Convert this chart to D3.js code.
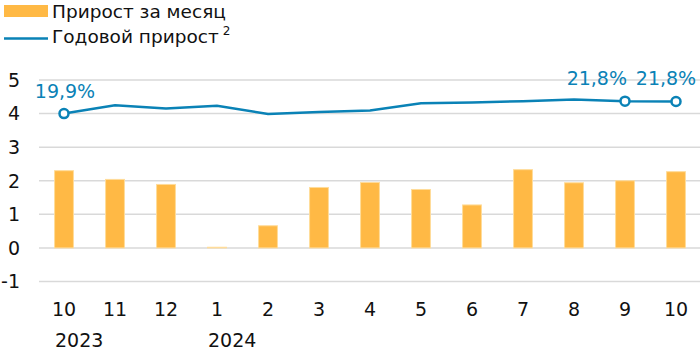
<!DOCTYPE html>
<html>
<head>
<meta charset="utf-8">
<script src="https://cdn.jsdelivr.net/npm/d3@7"></script>
<style>
  body { margin: 0; background: #fff; }
  svg { display: block; font-family: "DejaVu Sans", sans-serif; }
</style>
</head>
<body>
<div id="chart"></div>
<script>
// Chart data
const periods = ["2023-10", "2023-11", "2023-12", "2024-01", "2024-02", "2024-03", "2024-04",
                 "2024-05", "2024-06", "2024-07", "2024-08", "2024-09", "2024-10"];
const monthLabels = ["10", "11", "12", "1", "2", "3", "4", "5", "6", "7", "8", "9", "10"];
const yearLabels = [{ period: "2023-10", text: "2023" }, { period: "2024-01", text: "2024" }];
const monthlyGrowth = [2.30, 2.04, 1.89, 0.02, 0.66, 1.80, 1.95, 1.74, 1.28, 2.33, 1.94, 2.00, 2.27];
const annualGrowth = [4.00, 4.25, 4.15, 4.23, 3.99, 4.05, 4.09, 4.31, 4.33, 4.37, 4.42, 4.37, 4.36];
const annotations = [
  { period: "2023-10", text: "19,9%", anchor: "middle", dx: 1 },
  { period: "2024-09", text: "21,8%", anchor: "end", dx: 2 },
  { period: "2024-10", text: "21,8%", anchor: "middle", dx: -10 }
];
const yTicks = [-1, 0, 1, 2, 3, 4, 5];
const legendItems = ["Прирост за месяц", "Годовой прирост"];

const width = 700, height = 353;
const barColor = "#ffb945", lineColor = "#0a82b6";

const svg = d3.select("#chart").append("svg")
  .attr("width", width)
  .attr("height", height);

const x = d3.scalePoint()
  .domain(periods)
  .range([38.5, 701.5])
  .padding(0.5);

const y = d3.scaleLinear()
  .domain([-1, 5])
  .range([281.5, 80]);

const barWidth = x.step() * 0.37;

// grid lines
svg.append("g")
  .selectAll("line")
  .data(yTicks)
  .join("line")
  .attr("x1", 39)
  .attr("x2", width)
  .attr("y1", d => y(d))
  .attr("y2", d => y(d))
  .attr("stroke", "#d9d9d9")
  .attr("stroke-width", 1.5);

// y labels
svg.append("g")
  .selectAll("text")
  .data(yTicks)
  .join("text")
  .attr("x", 20)
  .attr("y", d => y(d))
  .attr("dy", "0.36em")
  .attr("text-anchor", "end")
  .attr("font-size", 19)
  .attr("fill", "#111")
  .text(d => d);

// bars
svg.append("g")
  .selectAll("rect")
  .data(periods)
  .join("rect")
  .attr("x", d => x(d) - barWidth / 2)
  .attr("width", barWidth)
  .attr("y", (d, i) => y(Math.max(0, monthlyGrowth[i])))
  .attr("height", (d, i) => Math.abs(y(monthlyGrowth[i]) - y(0)))
  .attr("fill", barColor)
  .attr("stroke", "#ffdc9a")
  .attr("stroke-width", 1);

// annual line
const line = d3.line()
  .x((d, i) => x(periods[i]))
  .y(d => y(d));

svg.append("path")
  .datum(annualGrowth)
  .attr("d", line)
  .attr("fill", "none")
  .attr("stroke", lineColor)
  .attr("stroke-width", 2.5);

// marked points and labels
svg.append("g")
  .selectAll("circle")
  .data(annotations)
  .join("circle")
  .attr("cx", d => x(d.period))
  .attr("cy", d => y(annualGrowth[periods.indexOf(d.period)]))
  .attr("r", 4.5)
  .attr("fill", "#fff")
  .attr("stroke", lineColor)
  .attr("stroke-width", 2.5);

svg.append("g")
  .selectAll("text")
  .data(annotations)
  .join("text")
  .attr("x", d => x(d.period) + d.dx)
  .attr("y", d => y(annualGrowth[periods.indexOf(d.period)]) - 16)
  .attr("text-anchor", d => d.anchor)
  .attr("font-size", 19)
  .attr("fill", lineColor)
  .text(d => d.text);

// x labels
svg.append("g")
  .selectAll("text")
  .data(periods)
  .join("text")
  .attr("x", d => x(d))
  .attr("y", 316)
  .attr("text-anchor", "middle")
  .attr("font-size", 19)
  .attr("fill", "#111")
  .text((d, i) => monthLabels[i]);

svg.append("g")
  .selectAll("text")
  .data(yearLabels)
  .join("text")
  .attr("x", d => x(d.period) - 9)
  .attr("y", 347)
  .attr("font-size", 19)
  .attr("fill", "#111")
  .text(d => d.text);

// legend
const legend = svg.append("g");
legend.append("rect")
  .attr("x", 4).attr("y", 5)
  .attr("width", 44).attr("height", 12)
  .attr("fill", barColor);
legend.append("text")
  .attr("x", 52).attr("y", 18)
  .attr("font-size", 18.5)
  .attr("fill", "#111")
  .text(legendItems[0]);
legend.append("line")
  .attr("x1", 4).attr("x2", 48)
  .attr("y1", 38.5).attr("y2", 38.5)
  .attr("stroke", lineColor)
  .attr("stroke-width", 2.5);
const t2 = legend.append("text")
  .attr("x", 52).attr("y", 43)
  .attr("font-size", 18.5)
  .attr("fill", "#111")
  .text(legendItems[1]);
legend.append("text")
  .attr("x", 52 + t2.node().getComputedTextLength() + 4)
  .attr("y", 35)
  .attr("font-size", 12)
  .attr("fill", "#111")
  .text("2");
</script>
</body>
</html>
